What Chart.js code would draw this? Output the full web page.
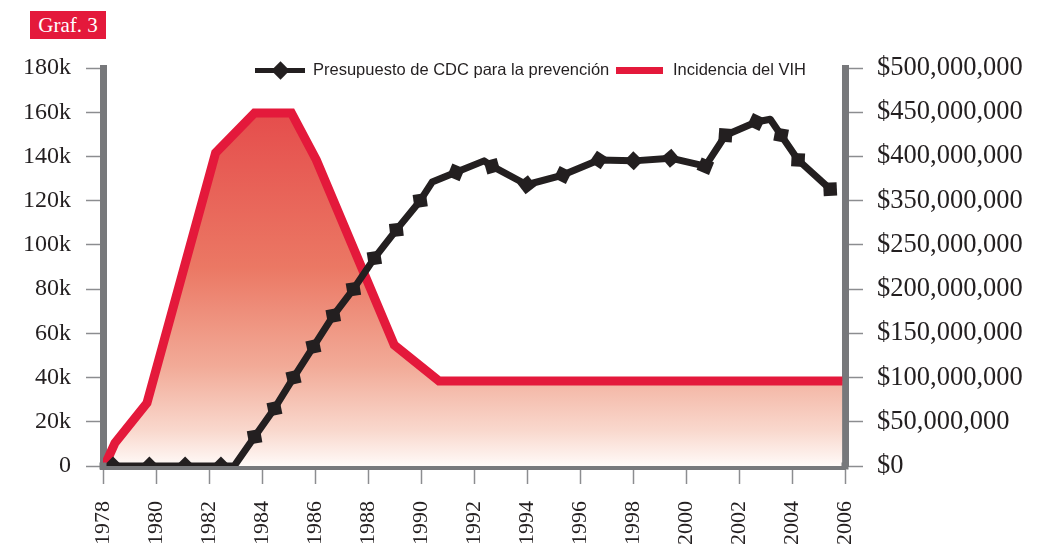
<!DOCTYPE html>
<html>
<head>
<meta charset="utf-8">
<script src="https://cdn.jsdelivr.net/npm/chart.js@4"></script>
<style>
  body { margin:0; background:#fff; }
  #wrap { position:relative; width:1058px; height:550px; }
  .badge { position:absolute; left:30px; top:11px; width:76px; height:28px; background:#e4193b;
    color:#fff; font:21px "Liberation Serif", serif; line-height:28px; text-align:center; }
  .leg { position:absolute; font:16.5px "Liberation Sans", sans-serif; color:#231f20; white-space:nowrap; }
  .sw { position:absolute; }
</style>
</head>
<body>
<div id="wrap">
  <canvas id="c" width="1058" height="550"></canvas>
  <div class="badge">Graf. 3</div>
  <div class="sw" style="left:255px;top:68px;width:50px;height:5px;background:#231f20"></div>
  <div class="sw" style="left:274px;top:64px;width:13px;height:13px;background:#231f20;transform:rotate(45deg)"></div>
  <div class="leg" style="left:313px;top:60px">Presupuesto de CDC para la prevención</div>
  <div class="sw" style="left:616px;top:67px;width:47px;height:7px;background:#e4193b"></div>
  <div class="leg" style="left:673px;top:60px">Incidencia del VIH</div>
</div>
<script>
// x axis ticks
const yearTicks = [1978,1980,1982,1984,1986,1988,1990,1992,1994,1996,1998,2000,2002,2004,2006];
const leftLabels = ['0','20k','40k','60k','80k','100k','120k','140k','160k','180k'];
const rightLabels = ['$0','$50,000,000','$100,000,000','$150,000,000','$200,000,000',
  '$250,000,000','$350,000,000','$400,000,000','$450,000,000','$500,000,000'];

// CDC prevention budget (millions, read by position on the right axis)
const budgetYears  = [1978.38,1979.75,1981.1,1982.45,1982.95,1983.72,1984.47,1985.19,1985.94,1986.69,
  1987.45,1988.24,1989.07,1989.97,1990.42,1991.32,1992.38,1992.68,1993.99,1995.35,
  1996.71,1998.02,1999.42,2000.73,2001.49,2002.65,2003.18,2003.59,2004.23,2005.44];
const budgetValues = [0,0,0,0,0,33,65,100,135,170,
  200,235,267,300,321,332,345,339,318,329,
  346,345,348,339,374,389,392,374,346,313];
const budgetMarked = [1,1,1,1,0,1,1,1,1,1,1,1,1,1,0,1,0,1,1,1,1,1,1,1,1,1,0,1,1,1];

// HIV incidence (thousands)
const incYears  = [1978.08,1978.45,1979.66,1982.25,1983.72,1985.11,1986.05,1988.99,1990.68,2005.9];
const incValues = [0.5,10.4,28.5,141.6,159.7,159.7,138.4,54.7,38.4,38.4];

const RED = '#e4193b', INK = '#231f20', GREY = '#77787b', TICK = '#8c8d90';

function markerAngle(ctx){
  const i = ctx.dataIndex;
  const sx = ctx.chart.scales.x, sy = ctx.chart.scales.y2;
  if (i === undefined || !sx || !sy) return 0;
  const a = Math.max(i-1,0), b = Math.min(i+1,budgetYears.length-1);
  const dx = sx.getPixelForValue(budgetYears[b]) - sx.getPixelForValue(budgetYears[a]);
  const dy = sy.getPixelForValue(budgetValues[b]) - sy.getPixelForValue(budgetValues[a]);
  const r = Math.atan2(dy, dx)*180/Math.PI;
  return isFinite(r) ? r : 0;
}

function fillGrad(ctx){
  const ch = ctx.chart, sy = ch.scales.y;
  if (!ch.chartArea || !sy) return 'rgba(229,75,75,0.6)';
  const top = sy.getPixelForValue(160), bot = sy.getPixelForValue(0);
  if (!isFinite(top) || !isFinite(bot)) return 'rgba(229,75,75,0.6)';
  const g = ch.ctx.createLinearGradient(0, top, 0, bot);
  g.addColorStop(0, '#e54d4c');
  g.addColorStop(0.44, '#eb7864');
  g.addColorStop(0.72, '#f2ab98');
  g.addColorStop(0.9, '#f9d8cd');
  g.addColorStop(1, '#fffaf8');
  return g;
}

// fill the small gaps where the thick axis bars meet
const cornerFix = {
  id: 'cornerFix',
  afterDraw(chart){
    const {ctx, chartArea: a} = chart;
    ctx.save();
    ctx.fillStyle = GREY;
    ctx.fillRect(a.left - 3.5, a.bottom - 3.5, 7, 7);
    ctx.fillRect(a.right - 3.5, a.bottom - 3.5, 7, 7);
    ctx.restore();
  }
};

const serif = 'Liberation Serif';

new Chart(document.getElementById('c'), {
  type: 'line',
  data: {
    datasets: [
      {
        label: 'Presupuesto de CDC para la prevención',
        data: budgetYears.map((x,i)=>({x, y: budgetValues[i]})),
        yAxisID: 'y2',
        borderColor: INK, borderWidth: 7, borderJoinStyle: 'round',
        pointStyle: 'rectRot',
        pointRadius: budgetMarked.map(m => m ? 9.5 : 0),
        pointBackgroundColor: INK, pointBorderWidth: 0,
        pointRotation: markerAngle,
        tension: 0
      },
      {
        label: 'Incidencia del VIH',
        data: incYears.map((x,i)=>({x, y: incValues[i]})),
        yAxisID: 'y',
        borderColor: RED, borderWidth: 9, borderJoinStyle: 'miter',
        pointRadius: 0,
        fill: 'origin',
        backgroundColor: fillGrad,
        tension: 0
      }
    ]
  },
  options: {
    responsive: false,
    animation: false,
    devicePixelRatio: 1,
    layout: { padding: { top: 68, left: 0, right: 0, bottom: 0 } },
    plugins: { legend: { display: false }, tooltip: { enabled: false } },
    scales: {
      x: {
        type: 'linear', min: 1978, max: 2006,
        afterFit: s => { s.height = 84; },
        afterBuildTicks: s => { s.ticks = yearTicks.map(v => ({ value: v })); },
        border: { display: true, color: GREY, width: 7 },
        grid: { drawOnChartArea: false, drawTicks: true, tickLength: 18, tickColor: TICK, tickWidth: 1.5 },
        ticks: { autoSkip: false, minRotation: 90, maxRotation: 90, padding: 17, color: INK,
          font: { family: serif, size: 22 }, callback: v => String(v) }
      },
      y: {
        position: 'left', min: 0, max: 180,
        afterFit: s => { s.width = 103; },
        border: { display: true, color: GREY, width: 7 },
        grid: { drawOnChartArea: false, drawTicks: true, tickLength: 17, tickColor: TICK, tickWidth: 1.5 },
        ticks: { stepSize: 20, padding: 15, color: INK, font: { family: serif, size: 24 },
          callback: (v, i) => leftLabels[i] }
      },
      y2: {
        position: 'right', min: 0, max: 450,
        afterFit: s => { s.width = 213; },
        border: { display: true, color: GREY, width: 7 },
        grid: { drawOnChartArea: false, drawTicks: true, tickLength: 18, tickColor: TICK, tickWidth: 1.5 },
        ticks: { stepSize: 50, padding: 14, color: INK, font: { family: serif, size: 26.5 },
          callback: (v, i) => rightLabels[i] }
      }
    }
  },
  plugins: [cornerFix]
});
</script>
</body>
</html>
